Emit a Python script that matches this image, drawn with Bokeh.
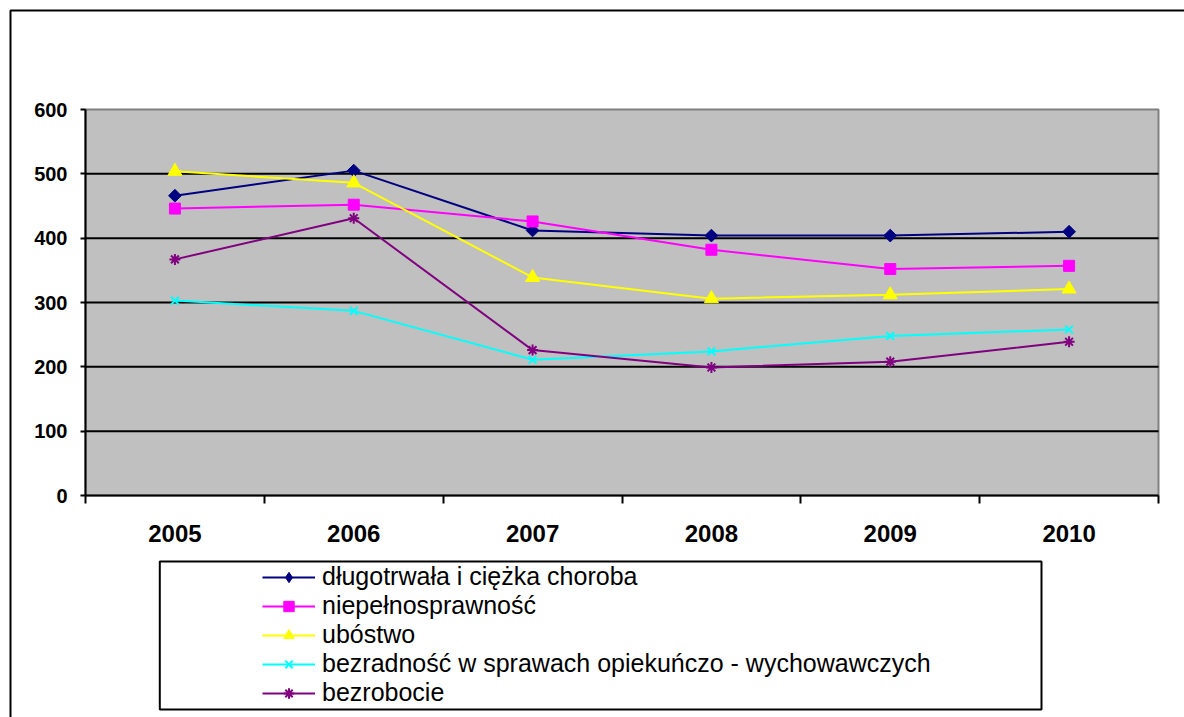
import math
from bokeh.plotting import figure
from bokeh.models import Range1d, FixedTicker, Legend, LegendItem, BoxAnnotation
from bokeh.embed import file_html
from bokeh.resources import INLINE

years = ["2005", "2006", "2007", "2008", "2009", "2010"]
dlugotrwala = [466, 505, 412, 404, 404, 410]
niepelnosprawnosc = [446, 452, 426, 382, 352, 357]
ubostwo = [504, 486, 339, 306, 312, 321]
bezradnosc = [303, 287, 211, 224, 248, 258]
bezrobocie = [367, 431, 226, 199, 208, 239]
series_labels = [
    "długotrwała i ciężka choroba",
    "niepełnosprawność",
    "ubóstwo",
    "bezradność w sprawach opiekuńczo - wychowawczych",
    "bezrobocie",
]
y_ticks = [0, 100, 200, 300, 400, 500, 600]

FONT = "Liberation Sans"

# canvas and plot-area geometry (pixels)
W, H = 1184, 717
PL, PR, PT, PB = 85, 1158, 109, 495

nx = len(years)
ymax = y_ticks[-1]
sx = (PR - PL) / nx
sy = (PB - PT) / ymax

x = [i + 0.5 for i in range(nx)]

p = figure(width=W, height=H,
           x_range=Range1d(-PL / sx, nx + (W - PR) / sx),
           y_range=Range1d(-(H - PB) / sy, ymax + PT / sy),
           output_backend="svg", toolbar_location=None,
           min_border=0, min_border_left=0, min_border_right=0,
           min_border_top=0, min_border_bottom=0,
           background_fill_color="white", border_fill_color="white")
p.outline_line_color = None
p.grid.visible = False

# plot area (grey) and its gridlines
p.quad(left=[0], right=[nx], bottom=[0], top=[ymax],
       fill_color="#C0C0C0", line_color="#808080", line_width=2, level="image")
grid_y = y_ticks[1:-1]
p.segment(x0=[0] * len(grid_y), x1=[nx] * len(grid_y), y0=grid_y, y1=grid_y,
          line_color="black", line_width=2, level="underlay")

# x axis: ticks between categories, labels at centres
xa = p.xaxis[0]
xa.fixed_location = 0
xa.bounds = (0, nx)
xa.ticker = FixedTicker(ticks=x, minor_ticks=list(range(nx + 1)))
xa.major_label_overrides = {xi: yr for xi, yr in zip(x, years)}
xa.major_tick_out = 0
xa.major_tick_in = 0
xa.minor_tick_out = 8
xa.minor_tick_in = 0
xa.minor_tick_line_color = "black"
xa.minor_tick_line_width = 2
xa.axis_line_color = "black"
xa.axis_line_width = 2
xa.major_label_text_font = FONT
xa.major_label_text_font_style = "bold"
xa.major_label_text_font_size = "24px"
xa.major_label_text_color = "black"
xa.major_label_standoff = 21

ya = p.yaxis[0]
ya.fixed_location = 0
ya.bounds = (0, ymax)
ya.ticker = FixedTicker(ticks=y_ticks)
ya.major_tick_out = 5
ya.major_tick_in = 0
ya.major_tick_line_color = "black"
ya.major_tick_line_width = 2
ya.minor_tick_line_color = None
ya.axis_line_color = "black"
ya.axis_line_width = 2
ya.major_label_text_font = FONT
ya.major_label_text_font_style = "bold"
ya.major_label_text_font_size = "20px"
ya.major_label_text_color = "black"
ya.major_label_standoff = 13

styles = [
    (dlugotrwala, "#000080", dict(marker="square", angle=math.pi / 4, size=9)),
    (niepelnosprawnosc, "#FF00FF", dict(marker="square", size=11)),
    (ubostwo, "#FFFF00", dict(marker="triangle", size=14)),
    (bezradnosc, "#00FFFF", dict(marker="x", size=11, line_width=2)),
    (bezrobocie, "#800080", dict(marker="asterisk", size=11, line_width=2)),
]

items = []
for (vals, color, mk), lab in zip(styles, series_labels):
    lr = p.line(x, vals, line_color=color, line_width=2)
    if mk.get("angle"):
        # diamond drawn underneath (shown in the legend), rotated square on top
        leg_r = p.scatter(x, vals, marker="diamond", size=10,
                          fill_color=color, line_color=color)
        p.scatter(x, vals, fill_color=color, line_color=color, **mk)
    else:
        leg_r = p.scatter(x, vals, fill_color=color, line_color=color, **mk)
    items.append(LegendItem(label=lab, renderers=[lr, leg_r]))

# legend (screen units: x from left, y from bottom)
legend = Legend(items=items, location=(262, 10), orientation="vertical",
                padding=0, spacing=0, margin=0, border_line_alpha=0,
                background_fill_alpha=0,
                glyph_width=53, glyph_height=26, label_height=26,
                label_standoff=7, label_text_font=FONT,
                label_text_font_size="25px",
                label_text_color="black")
p.add_layout(legend, "center")

# legend frame
p.add_layout(BoxAnnotation(left=159.3, right=1041, top=H - 561, bottom=H - 709,
                           left_units="screen", right_units="screen",
                           top_units="screen", bottom_units="screen",
                           fill_alpha=0, line_color="black", line_alpha=1,
                           line_width=2))
# outer chart border
p.add_layout(BoxAnnotation(left=10, right=W + 100, top=H - 10, bottom=-100,
                           left_units="screen", right_units="screen",
                           top_units="screen", bottom_units="screen",
                           fill_alpha=0, line_color="black", line_alpha=1,
                           line_width=2))

open("out.html", "w").write(file_html(p, INLINE))
